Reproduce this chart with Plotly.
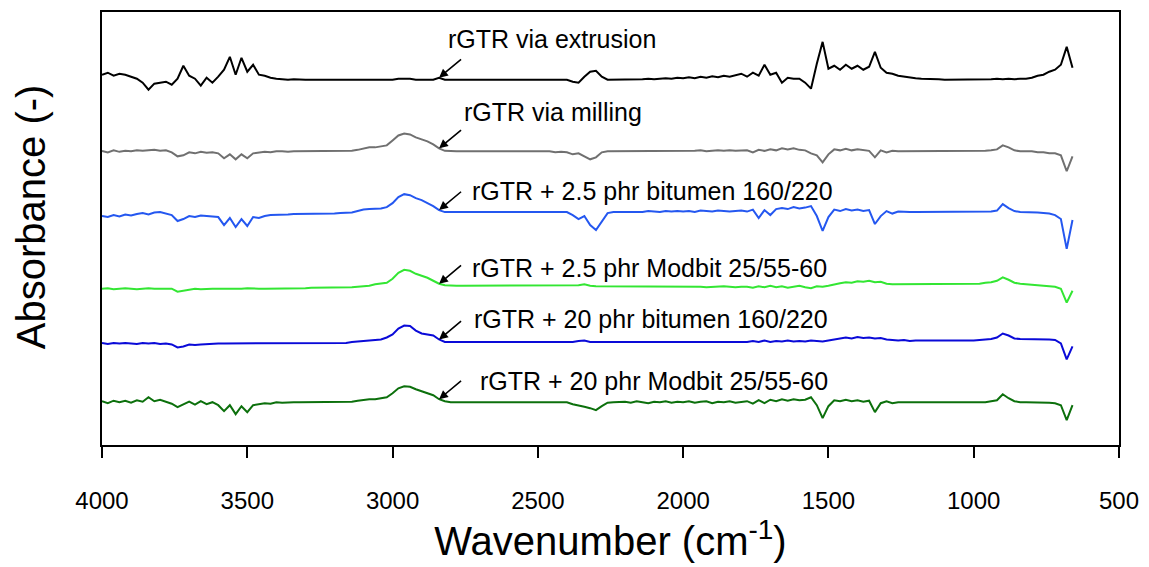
import plotly.graph_objects as go

# Wavenumber sampling (cm-1), 20 cm-1 steps from 4000 down to 660
WAVENUMBER = list(range(4000, 659, -20))

# Absorbance of each sample, relative to its own baseline (a.u.)
ABS_EXTRUSION = [
    1.0, 1.4, 0.8, 1.2, 1.0, 0.6, 0.2, -0.6, -2.0, -0.8,
    -0.6, -0.4, -1.0, 0.2, 2.8, 0.8, 0.2, -1.2, 0.4, -0.6,
    0.6, 2.0, 4.6, 1.0, 4.4, 1.6, 3.0, 1.0, 0.8, 0.4,
    0.2, 0.1, 0.0, 0.1, 0.0, 0.0, 0.0, 0.0, 0.1, 0.0,
    0.0, 0.0, 0.0, 0.0, 0.0, 0.1, 0.0, 0.0, 0.0, 0.0,
    0.0, 0.2, 0.2, 0.2, 0.0, 0.0, 0.0, 0.0, 0.4, 0.0,
    0.0, 0.0, 0.0, 0.0, 0.0, 0.0, 0.0, 0.0, 0.0, 0.0,
    0.0, 0.0, 0.0, 0.0, 0.0, 0.0, 0.0, 0.0, 0.0, 0.0,
    0.0, -0.4, -0.6, 0.6, 1.6, 1.8, 0.6, 0.0, 0.0, 0.0,
    0.0, 0.1, 0.0, 0.1, 0.2, 0.1, 0.2, 0.3, 0.2, 0.4,
    0.3, 0.5, 0.3, 0.6, 0.4, 0.7, 0.5, 0.8, 0.6, 0.9,
    1.2, 0.6, 1.4, 0.8, 3.0, 1.0, 1.4, -0.6, 0.4, 0.2,
    0.2, -0.6, -1.8, 3.2, 7.6, 2.2, 2.8, 2.0, 3.0, 2.2,
    2.8, 2.0, 2.6, 5.6, 2.4, 1.4, 1.2, 0.8, 0.6, 0.4,
    0.3, 0.2, 0.2, 0.1, 0.1, 0.0, 0.0, 0.0, 0.0, 0.0,
    0.0, 0.0, 0.0, 0.1, 0.2, 0.1, 0.2, 0.1, 0.2, 0.2,
    0.4, 0.8, 1.0, 1.6, 2.0, 3.0, 6.6, 2.4,
]
ABS_MILLING = [
    0.1, -0.2, 0.2, -0.1, 0.1, 0.0, 0.2, 0.1, 0.2, 0.3,
    0.1, 0.2, -0.2, -1.0, -0.8, -0.2, -0.4, -0.1, -0.3, -0.2,
    -0.4, -1.4, -0.6, -1.6, -0.6, -1.4, -0.4, -0.3, -0.1, -0.2,
    0.0, 0.0, -0.1, 0.0, 0.0, 0.0, 0.0, 0.0, 0.0, 0.0,
    0.0, 0.0, 0.0, 0.1, 0.3, 0.6, 0.8, 0.8, 1.0, 1.2,
    2.2, 3.2, 3.6, 3.4, 2.8, 2.4, 2.0, 1.4, 0.6, 0.1,
    0.0, 0.0, 0.0, 0.0, 0.0, 0.0, 0.0, 0.0, 0.0, 0.0,
    0.0, 0.0, 0.0, 0.0, -0.1, 0.0, -0.1, 0.0, -0.2, -0.1,
    -0.2, -0.6, -0.4, -1.0, -1.6, -1.2, -0.2, 0.0, 0.0, 0.0,
    0.0, 0.1, 0.0, 0.0, 0.1, 0.0, 0.1, 0.0, 0.1, 0.0,
    0.1, 0.0, 0.1, 0.2, 0.0, 0.1, 0.2, 0.1, 0.2, 0.1,
    0.2, 0.2, -0.2, 0.3, 0.1, 0.4, 0.2, 0.6, 0.4, 0.6,
    0.3, 0.2, -0.4, -0.8, -2.2, -0.6, 0.4, 0.2, 0.5, 0.2,
    0.4, 0.3, 0.1, -1.2, 0.2, -0.2, 0.1, 0.0, 0.0, 0.0,
    0.0, 0.0, 0.0, 0.0, 0.0, 0.0, 0.0, 0.0, 0.0, 0.0,
    0.0, 0.0, 0.1, 0.2, 0.4, 1.2, 0.8, 0.2, 0.0, 0.0,
    0.0, -0.2, -0.2, -0.4, -0.4, -0.8, -4.0, -1.0,
]
ABS_BIT_2_5 = [
    -0.8, -1.0, -0.6, -0.9, -0.5, -0.7, -0.4, -0.2, -0.5, -0.1,
    0.0, -0.3, -0.6, -1.8, -1.4, -0.8, -1.0, -0.7, -0.8, -0.9,
    -1.0, -2.6, -1.2, -3.0, -1.4, -2.8, -1.0, -1.2, -0.8, -0.6,
    -0.6, -0.5, -0.5, -0.4, -0.4, -0.3, -0.3, -0.3, -0.3, -0.3,
    -0.3, -0.2, -0.2, -0.1, 0.2, 0.5, 0.6, 0.6, 0.7, 1.0,
    1.8, 3.0, 3.6, 3.4, 2.8, 2.4, 1.8, 1.2, 0.4, 0.0,
    0.0, 0.0, 0.0, 0.0, 0.0, 0.0, 0.0, 0.0, 0.0, 0.0,
    0.0, 0.0, 0.0, 0.0, 0.0, 0.0, 0.0, 0.0, 0.0, 0.0,
    0.0, -0.6, -1.4, -0.8, -2.6, -3.6, -1.8, -0.2, 0.0, 0.0,
    0.1, 0.0, 0.1, 0.0, 0.2, 0.1, 0.0, 0.2, 0.1, 0.2,
    0.1, 0.2, 0.0, 0.3, 0.2, 0.1, 0.3, 0.2, 0.1, 0.2,
    0.3, 0.1, 0.5, -1.2, 0.4, -0.6, 0.6, 0.8, 0.6, 1.0,
    0.7, 0.9, 1.2, -0.8, -3.8, -1.0, 0.5, 0.2, 0.6, 0.3,
    0.5, 0.2, 0.4, -2.4, -0.8, 0.2, -0.3, 0.1, 0.0, 0.0,
    0.0, 0.0, 0.0, 0.0, 0.0, 0.0, 0.0, 0.0, 0.0, 0.0,
    0.0, 0.0, 0.0, 0.1, 0.3, 1.6, 0.8, 0.2, 0.0, 0.0,
    0.0, -0.1, -0.2, -0.3, -0.6, -1.4, -7.4, -1.6,
]
ABS_MOD_2_5 = [
    0.0, 0.1, -0.1, 0.0, 0.1, 0.0, -0.1, 0.0, 0.1, 0.0,
    0.0, -0.1, 0.0, -0.6, -0.4, -0.1, 0.0, -0.1, 0.0, 0.0,
    0.0, 0.0, -0.1, 0.0, 0.0, 0.1, 0.0, 0.0, 0.0, 0.0,
    0.0, 0.1, 0.1, 0.1, 0.1, 0.1, 0.2, 0.2, 0.2, 0.2,
    0.2, 0.2, 0.3, 0.3, 0.4, 0.5, 0.6, 0.9, 1.0, 1.2,
    2.0, 3.2, 3.8, 3.6, 3.0, 2.6, 2.2, 1.6, 1.0, 0.7,
    0.6, 0.6, 0.6, 0.6, 0.6, 0.6, 0.6, 0.6, 0.6, 0.6,
    0.6, 0.6, 0.6, 0.6, 0.6, 0.6, 0.6, 0.6, 0.6, 0.6,
    0.6, 0.6, 0.7, 0.9, 0.6, 0.5, 0.5, 0.4, 0.4, 0.4,
    0.4, 0.4, 0.5, 0.4, 0.4, 0.5, 0.4, 0.4, 0.4, 0.5,
    0.4, 0.4, 0.5, 0.4, 0.3, 0.4, 0.4, 0.5, 0.4, 0.3,
    0.4, 0.4, 0.2, 0.5, 0.3, 0.6, 0.3, 0.5, 0.2, 0.4,
    0.6, 0.3, 0.1, 0.5, 0.4, 0.6, 0.9, 1.1, 1.3, 1.2,
    1.5, 1.4, 1.6, 1.3, 1.4, 1.0, 0.9, 0.9, 0.9, 0.9,
    0.9, 0.9, 0.9, 0.9, 0.9, 0.9, 0.9, 0.9, 0.9, 0.9,
    0.9, 1.0, 1.2, 1.3, 1.6, 2.3, 1.8, 1.2, 1.0, 0.9,
    0.8, 0.8, 0.7, 0.6, 0.4, 0.0, -2.8, -0.4,
]
ABS_BIT_20 = [
    0.1, -0.1, 0.1, 0.0, 0.1, 0.0, -0.1, 0.1, 0.0, 0.1,
    -0.1, 0.0, -0.2, -0.8, -0.6, -0.2, -0.3, -0.2, -0.1, 0.0,
    0.0, 0.0, 0.0, 0.0, 0.0, 0.0, 0.0, 0.0, 0.0, 0.0,
    0.0, 0.0, 0.0, 0.0, 0.0, 0.0, 0.0, 0.0, 0.0, 0.0,
    0.0, 0.0, 0.1, 0.3, 0.4, 0.5, 0.5, 0.7, 0.8, 1.2,
    1.8, 3.0, 3.6, 3.5, 2.6, 2.0, 1.8, 1.6, 0.8, 0.3,
    0.3, 0.3, 0.3, 0.3, 0.3, 0.3, 0.3, 0.3, 0.3, 0.3,
    0.3, 0.3, 0.3, 0.3, 0.3, 0.3, 0.3, 0.3, 0.3, 0.3,
    0.3, 0.3, 0.5, 0.6, 0.3, 0.3, 0.3, 0.3, 0.3, 0.3,
    0.3, 0.3, 0.3, 0.3, 0.3, 0.3, 0.3, 0.3, 0.3, 0.3,
    0.3, 0.3, 0.3, 0.3, 0.3, 0.4, 0.3, 0.3, 0.4, 0.3,
    0.3, 0.3, 0.5, 0.3, 0.6, 0.3, 0.5, 0.4, 0.6, 0.4,
    0.5, 0.4, 0.6, 0.5, 0.4, 0.6, 0.8, 1.0, 1.2, 1.0,
    1.3, 1.1, 1.2, 1.0, 1.1, 0.8, 0.7, 0.6, 0.7, 0.5,
    0.6, 0.6, 0.5, 0.6, 0.6, 0.6, 0.5, 0.6, 0.6, 0.6,
    0.6, 0.7, 0.8, 0.9, 1.2, 2.0, 1.6, 1.0, 0.9, 0.9,
    0.9, 0.9, 0.8, 0.8, 0.7, 0.0, -3.2, -0.6,
]
ABS_MOD_20 = [
    0.2, -0.2, 0.3, 0.0, 0.3, -0.1, 0.4, 0.1, 1.0, 0.2,
    0.5, 0.1, -0.3, -1.0, -0.4, 0.1, -0.5, 0.2, -0.4, 0.0,
    -0.6, -1.8, -0.6, -2.4, -0.8, -2.0, -0.6, -0.4, -0.2, -0.3,
    0.0, -0.1, 0.0, 0.0, 0.0, 0.0, 0.0, 0.0, 0.0, 0.0,
    0.0, 0.0, 0.0, 0.1, 0.3, 0.5, 0.6, 0.6, 0.8, 1.0,
    1.8, 2.8, 3.2, 3.1, 2.6, 2.2, 1.8, 1.4, 0.6, 0.2,
    0.0, 0.0, 0.0, 0.0, 0.0, 0.0, 0.0, 0.0, 0.0, 0.0,
    0.0, 0.0, 0.0, 0.0, 0.0, 0.0, 0.0, 0.0, 0.0, 0.0,
    0.0, -0.4, -0.6, -0.9, -1.2, -1.6, -0.8, -0.1, 0.0, 0.0,
    0.1, -0.1, 0.2, 0.0, -0.2, 0.1, 0.0, 0.2, -0.1, 0.1,
    0.0, 0.2, -0.1, 0.1, 0.2, -0.2, 0.1, 0.0, 0.2, -0.1,
    0.1, 0.2, -0.3, 0.4, -0.2, 0.5, 0.2, 0.6, 0.3, 0.6,
    0.4, 0.5, 1.0, -0.6, -3.2, -0.8, 0.4, 0.2, 0.5, 0.2,
    0.4, 0.1, 0.3, -2.0, -0.2, 0.2, -0.2, 0.0, 0.0, 0.0,
    0.0, 0.0, 0.0, 0.0, 0.0, 0.0, 0.0, 0.0, 0.0, 0.0,
    0.0, 0.0, 0.0, 0.2, 0.4, 1.6, 0.8, 0.2, 0.0, 0.0,
    0.0, 0.0, 0.0, -0.1, -0.2, -0.6, -3.6, -0.6,
]

SAMPLE_LABELS = [
    "rGTR via extrusion",
    "rGTR via milling",
    "rGTR + 2.5 phr bitumen 160/220",
    "rGTR + 2.5 phr Modbit 25/55-60",
    "rGTR + 20 phr bitumen 160/220",
    "rGTR + 20 phr Modbit 25/55-60",
]
SPECTRA = [ABS_EXTRUSION, ABS_MILLING, ABS_BIT_2_5, ABS_MOD_2_5, ABS_BIT_20, ABS_MOD_20]
# vertical stacking offset of each spectrum
STACK_OFFSET = [73.4, 59.0, 46.8, 31.4, 20.4, 8.6]
X_TICKS = [4000, 3500, 3000, 2500, 2000, 1500, 1000, 500]

COLORS = ["#000000", "#707070", "#2457f0", "#33e633", "#0a0ad8", "#0c700c"]
FONT = "Liberation Sans, Arial, sans-serif"

# label placement: (left edge wavenumber, height above the spectrum baseline)
LABEL_POS = [(2816, 8.2), (2762, 7.9), (2733, 4.3), (2733, 4.2), (2727, 4.9), (2706, 4.2)]
ARROW_WN = 2840  # band pointed to by the arrows

fig = go.Figure()
for name, vals, off, col in zip(SAMPLE_LABELS, SPECTRA, STACK_OFFSET, COLORS):
    fig.add_trace(go.Scatter(
        x=WAVENUMBER, y=[v + off for v in vals], mode="lines", name=name,
        line=dict(color=col, width=2), showlegend=False,
    ))

k = WAVENUMBER.index(ARROW_WN)
for name, vals, off, (lx, ly) in zip(SAMPLE_LABELS, SPECTRA, STACK_OFFSET, LABEL_POS):
    # arrow from beside the label down to the 2840 cm-1 band
    fig.add_annotation(
        x=ARROW_WN, y=vals[k] + off, xref="x", yref="y", text=" ",
        font=dict(size=2), showarrow=True, arrowhead=2, arrowsize=1.1,
        arrowwidth=1.6, arrowcolor="black", ax=24, ay=-20,
    )
    fig.add_annotation(
        x=lx, y=off + ly, xref="x", yref="y", text=name, showarrow=False,
        xanchor="left", yanchor="middle", font=dict(family=FONT, size=25, color="black"),
    )

fig.add_annotation(
    x=-0.069, y=0.528, xref="paper", yref="paper", text="Absorbance (-)",
    textangle=-90, showarrow=False, xanchor="center", yanchor="middle",
    font=dict(family=FONT, size=40, color="black"),
)

fig.update_layout(
    width=1149, height=567,
    margin=dict(l=102, r=30, t=10, b=122),
    plot_bgcolor="white", paper_bgcolor="white",
    font=dict(family=FONT, color="black"),
)
fig.update_xaxes(
    range=[4000, 500], tickvals=X_TICKS, ticks="outside", ticklen=11, tickwidth=1.5,
    tickcolor="black", showline=True, linecolor="black", linewidth=1.5, mirror=True,
    showgrid=False, zeroline=False, tickfont=dict(family=FONT, size=24),
    ticklabelstandoff=22,
    title=dict(text="Wavenumber (cm<sup>-1</sup>)", font=dict(family=FONT, size=40), standoff=14),
)
fig.update_yaxes(
    range=[0, 87], showticklabels=False, ticks="", showline=True, linecolor="black",
    linewidth=1.5, mirror=True, showgrid=False, zeroline=False,
)

fig.write_html("out.html")
